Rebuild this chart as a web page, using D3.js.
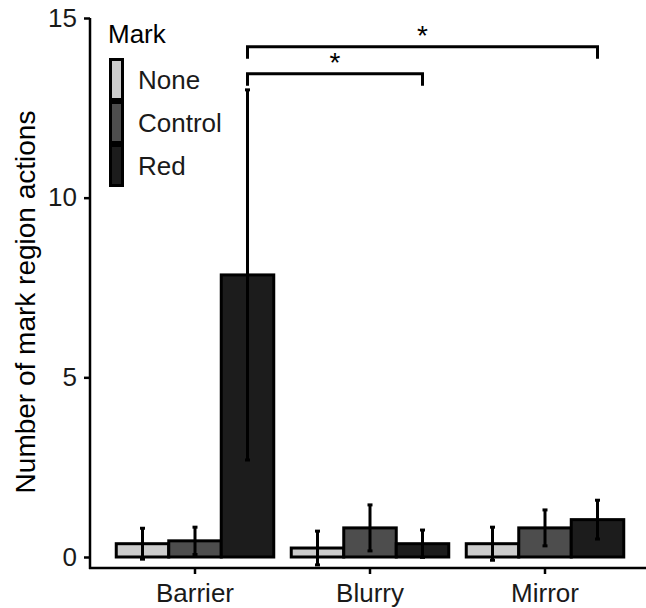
<!DOCTYPE html>
<html>
<head>
<meta charset="utf-8">
<script src="https://cdn.jsdelivr.net/npm/d3@7"></script>
<style>
  body { margin: 0; background: #fff; }
  svg { display: block; font-family: "Liberation Sans", Arial, sans-serif; }
</style>
</head>
<body>
<svg id="chart" width="646" height="608"></svg>
<script>
// conditions on the x axis and the three mark types (fill groups)
const conditions = ["Barrier", "Blurry", "Mirror"];
const marks = ["None", "Control", "Red"];

// mean number of actions and error (half bar length), per condition
const meanNone = [0.37, 0.25, 0.37];
const errNone = [0.43, 0.47, 0.46];
const meanControl = [0.45, 0.81, 0.81];
const errControl = [0.38, 0.64, 0.50];
const meanRed = [7.85, 0.37, 1.04];
const errRed = [5.15, 0.38, 0.54];

const yTicks = [0, 5, 10, 15];

// significance brackets between the Red bars
const sigFrom = ["Barrier", "Barrier"];
const sigTo = ["Blurry", "Mirror"];
const sigY = [13.45, 14.2];
const sigLabel = ["*", "*"];

const fills = { None: "#cccccc", Control: "#4d4d4d", Red: "#1c1c1c" };

const means = { None: meanNone, Control: meanControl, Red: meanRed };
const errs = { None: errNone, Control: errControl, Red: errRed };

const rows = [];
marks.forEach(m => {
    conditions.forEach((c, i) => {
        rows.push({ cond: c, mark: m, mean: means[m][i], err: errs[m][i] });
    });
});

const svg = d3.select("#chart");

const x = d3.scaleBand()
    .domain(conditions)
    .range([90, 650])
    .paddingInner(0.1)
    .paddingOuter(0.15);

const xs = d3.scaleBand()
    .domain(marks)
    .range([0, x.bandwidth()]);

const y = d3.scaleLinear()
    .domain([0, 15])
    .range([557, 18]);

// bars
svg.append("g")
    .selectAll("rect")
    .data(rows)
    .join("rect")
    .attr("x", d => x(d.cond) + xs(d.mark))
    .attr("y", d => y(d.mean))
    .attr("width", xs.bandwidth())
    .attr("height", d => y(0) - y(d.mean))
    .attr("fill", d => fills[d.mark])
    .attr("stroke", "#000")
    .attr("stroke-width", 3);

// error bars
const eb = svg.append("g")
    .attr("stroke", "#000")
    .attr("stroke-width", 3)
    .selectAll("g")
    .data(rows)
    .join("g")
    .attr("transform", d => `translate(${x(d.cond) + xs(d.mark) + xs.bandwidth() / 2},0)`);

eb.append("line")
    .attr("y1", d => y(d.mean - d.err))
    .attr("y2", d => y(d.mean + d.err));
eb.append("line")
    .attr("x1", -2.5).attr("x2", 2.5)
    .attr("y1", d => y(d.mean + d.err))
    .attr("y2", d => y(d.mean + d.err));
eb.append("line")
    .attr("x1", -2.5).attr("x2", 2.5)
    .attr("y1", d => y(d.mean - d.err))
    .attr("y2", d => y(d.mean - d.err));

// axes
const yAxis = svg.append("g")
    .attr("transform", "translate(90,0)")
    .call(d3.axisLeft(y).tickValues(yTicks).tickSize(6).tickPadding(7));

const xAxis = svg.append("g")
    .attr("transform", "translate(0,568)")
    .call(d3.axisBottom(x).tickSize(6).tickPadding(10));

[yAxis, xAxis].forEach(a => {
    a.select(".domain").remove();
    a.selectAll("line").attr("stroke", "#000").attr("stroke-width", 2.5);
    a.selectAll("text").attr("font-size", 26).attr("fill", "#1a1a1a")
        .attr("font-family", "Liberation Sans, Arial, sans-serif");
});

svg.append("line")
    .attr("x1", 90).attr("x2", 90)
    .attr("y1", 18).attr("y2", 569)
    .attr("stroke", "#000").attr("stroke-width", 2.5);
svg.append("line")
    .attr("x1", 89).attr("x2", 646)
    .attr("y1", 568).attr("y2", 568)
    .attr("stroke", "#000").attr("stroke-width", 2.5);

// y axis title
svg.append("text")
    .attr("transform", "translate(35,302) rotate(-90)")
    .attr("text-anchor", "middle")
    .attr("font-size", 28)
    .attr("fill", "#000")
    .text("Number of mark region actions");

// significance brackets
const redCenter = c => x(c) + xs("Red") + xs.bandwidth() / 2;
const brackets = sigFrom.map((f, i) => ({ from: f, to: sigTo[i], yv: sigY[i], label: sigLabel[i] }));

const br = svg.append("g")
    .selectAll("g")
    .data(brackets)
    .join("g");

br.append("path")
    .attr("fill", "none")
    .attr("stroke", "#000")
    .attr("stroke-width", 3)
    .attr("d", d => {
        const x1 = redCenter(d.from), x2 = redCenter(d.to), yy = y(d.yv);
        return `M${x1},${yy + 12}V${yy}H${x2}V${yy + 12}`;
    });

br.append("text")
    .attr("x", d => (redCenter(d.from) + redCenter(d.to)) / 2)
    .attr("y", d => y(d.yv) - 2)
    .attr("text-anchor", "middle")
    .attr("font-size", 28)
    .attr("fill", "#000")
    .text(d => d.label);

// legend
const legend = svg.append("g").attr("transform", "translate(109,0)");
legend.append("text")
    .attr("x", -1).attr("y", 43)
    .attr("font-size", 26)
    .attr("fill", "#000")
    .text("Mark");

const keyH = 43;
const keys = legend.selectAll("g.key")
    .data(marks)
    .join("g")
    .attr("class", "key")
    .attr("transform", (d, i) => `translate(0,${58 + i * keyH})`);

keys.append("rect")
    .attr("x", 1.5).attr("y", 1.5)
    .attr("width", 12).attr("height", keyH - 3)
    .attr("fill", d => fills[d])
    .attr("stroke", "#000")
    .attr("stroke-width", 3);

keys.append("text")
    .attr("x", 29)
    .attr("y", keyH / 2)
    .attr("dy", "0.35em")
    .attr("font-size", 26)
    .attr("fill", "#1a1a1a")
    .text(d => d);
</script>
</body>
</html>
